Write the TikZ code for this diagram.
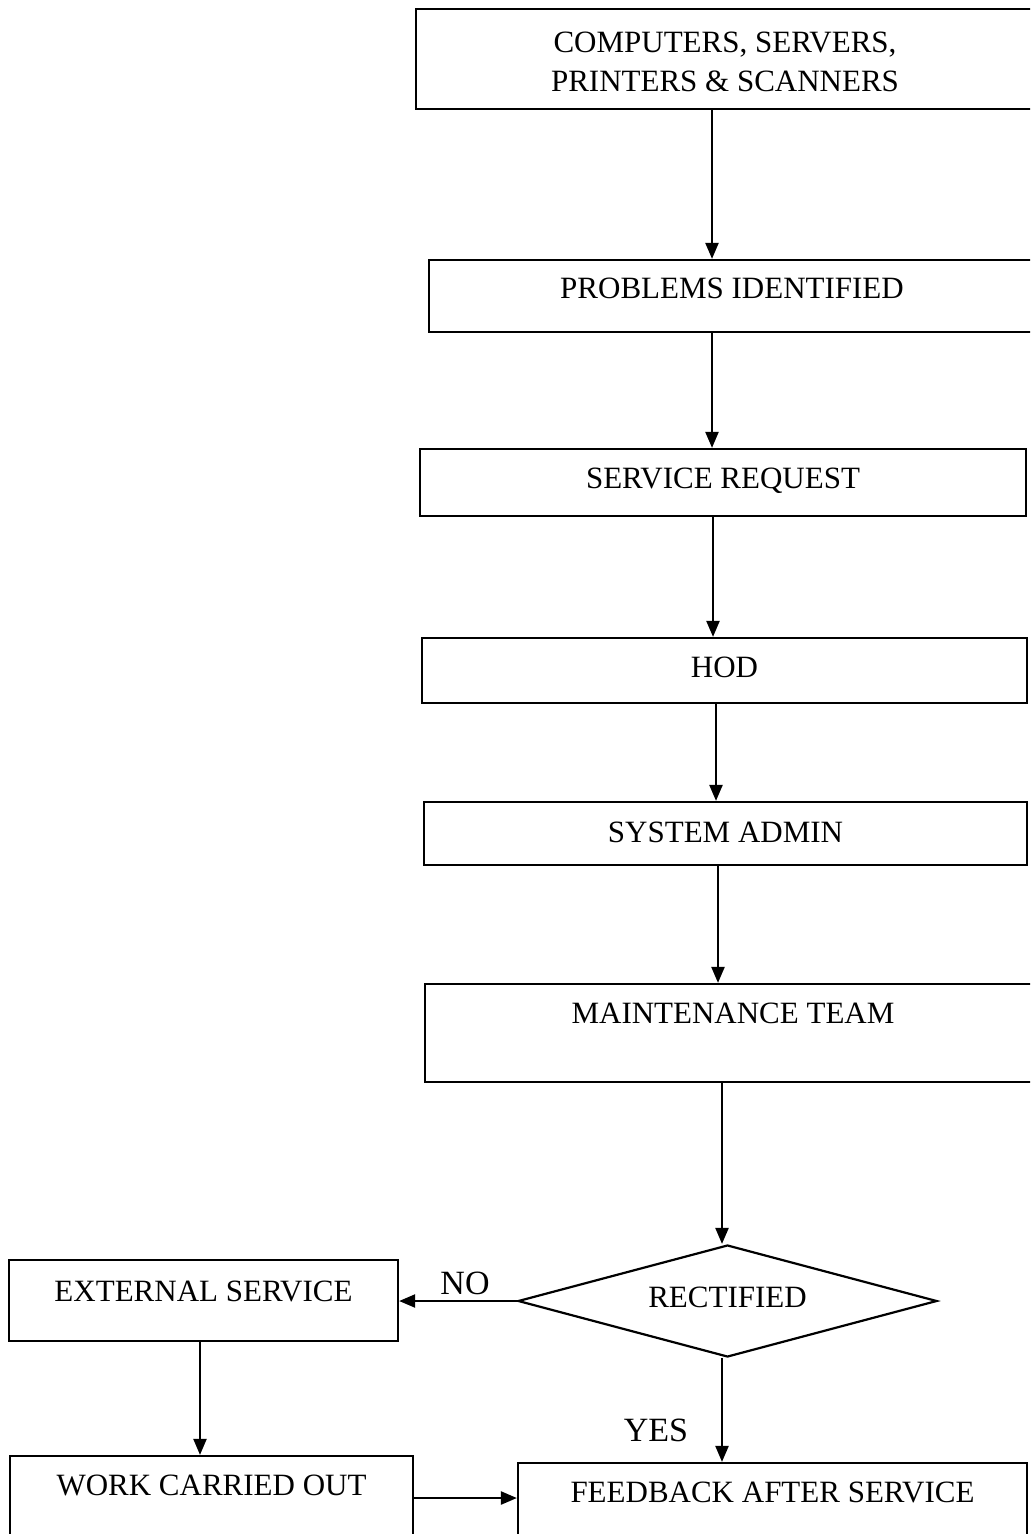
\documentclass[tikz,border=0pt]{standalone}
\usepackage{fontspec}
\setmainfont{Liberation Serif}
\usetikzlibrary{arrows.meta,shapes.geometric}
\tikzset{
  box/.style={draw, line width=1.1pt, rectangle, inner sep=0pt, anchor=center,
    font=\fontsize{15.5pt}{19.5pt}\selectfont},
  decision/.style={draw, line width=1.1pt, diamond, aspect=3.74, inner sep=0pt, anchor=center,
    font=\fontsize{15.5pt}{19.5pt}\selectfont},
  arr/.style={line width=1.1pt, -{Triangle[length=8pt,width=6.5pt]}},
  lbl/.style={anchor=base, inner sep=0pt, font=\fontsize{17pt}{20pt}\selectfont}
}
\begin{document}
\begin{tikzpicture}[x=0.5pt,y=-0.5pt]
\useasboundingbox (0,0) rectangle (1030,1534);
\clip (0,0) rectangle (1030,1534);
\fill[white] (0,0) rectangle (1030,1534);

\node[box, minimum width=309pt, text height=22pt, text depth=28pt] (b1) at (725,59)
  {\begin{tabular}[t]{@{}c@{}}COMPUTERS, SERVERS,\\ PRINTERS \& SCANNERS\end{tabular}};
\node[box, minimum width=303pt, text height=19.5pt, text depth=16.5pt] (b2) at (732,296) {PROBLEMS IDENTIFIED};
\node[box, minimum width=303pt, text height=19.5pt, text depth=14pt] (b3) at (723,482.5) {SERVICE REQUEST};
\node[box, minimum width=302.5pt, text height=19.5pt, text depth=13pt] (b4) at (724.5,670.5) {HOD};
\node[box, minimum width=301.5pt, text height=20pt, text depth=11.5pt] (b5) at (725.5,833.5) {SYSTEM ADMIN};
\node[box, minimum width=308pt, text height=19.5pt, text depth=29.5pt] (b6) at (733,1033) {MAINTENANCE TEAM};
\node[decision, minimum width=209.5pt, minimum height=56pt, text height=10.5pt, text depth=4.5pt] (dia) at (727.5,1301) {RECTIFIED};
\node[box, minimum width=194.5pt, text height=20.5pt, text depth=20pt] (ext) at (203.5,1300.5) {EXTERNAL SERVICE};
\node[box, minimum width=201.5pt, text height=19.5pt, text depth=25pt] (work) at (211.5,1500.5) {WORK CARRIED OUT};
\node[box, minimum width=254.5pt, text height=19.5pt, text depth=21.5pt] (feed) at (772.5,1504) {FEEDBACK AFTER SERVICE};

\node[lbl] (no) at (465,1294) {NO};
\node[lbl] (yes) at (656,1441) {YES};

\coordinate (c1) at (712,0);
\coordinate (c2) at (712,0);
\coordinate (c3) at (713,0);
\coordinate (c4) at (716,0);
\coordinate (c5) at (718,0);
\coordinate (c6) at (722,0);
\coordinate (c7) at (722,0);
\coordinate (c8) at (200,0);
\coordinate (c9) at (0,1498);

\draw[arr] (b1.south -| c1) -- (b2.north -| c1);
\draw[arr] (b2.south -| c2) -- (b3.north -| c2);
\draw[arr] (b3.south -| c3) -- (b4.north -| c3);
\draw[arr] (b4.south -| c4) -- (b5.north -| c4);
\draw[arr] (b5.south -| c5) -- (b6.north -| c5);
\draw[arr] (b6.south -| c6) -- (dia.north -| c6);
\draw[arr] (dia.west) -- (ext.east |- dia.west);
\draw[arr] (dia.south -| c7) -- (feed.north -| c7);
\draw[arr] (ext.south -| c8) -- (work.north -| c8);
\draw[arr] (work.east |- c9) -- (feed.west |- c9);
\end{tikzpicture}
\end{document}
